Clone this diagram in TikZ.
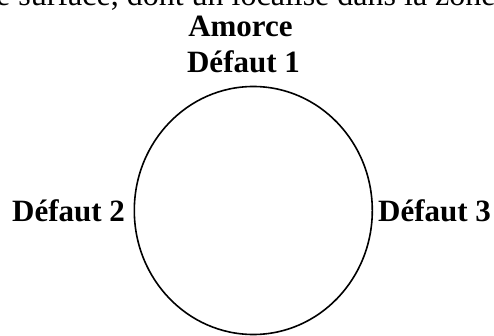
\documentclass[tikz,border=0pt]{standalone}
\usepackage{fontspec}
\setmainfont{Liberation Serif}
\begin{document}
\begin{tikzpicture}[x=1pt,y=-1pt,
  label/.style={inner sep=0pt,anchor=base,font=\fontsize{31}{37}\selectfont\bfseries},
  bodytext/.style={inner sep=0pt,anchor=base west,font=\fontsize{32}{38}\selectfont},
  outline/.style={draw=black,line width=1.6pt}]
  \useasboundingbox[fill=white] (0,0) rectangle (494,336);
  \begin{scope}
    \clip (0,0) rectangle (494,336);
    % running text line above the figure, cut by the frame
    \node[bodytext] (txt) at (-4,6) {e surface, dont un localisé dans la zone};
    % specimen cross-section
    \draw[outline] (253.3,210.5) ellipse [x radius=119, y radius=124];
  \end{scope}
  \node[label] (amorce) at (240.5,36.5) {Amorce};
  \node[label] (d1) at (243.5,73) {Défaut 1};
  \node[label,anchor=base west] (d2) at (12,222) {Défaut 2};
  \node[label,anchor=base west] (d3) at (378,222) {Défaut 3};
\end{tikzpicture}
\end{document}
